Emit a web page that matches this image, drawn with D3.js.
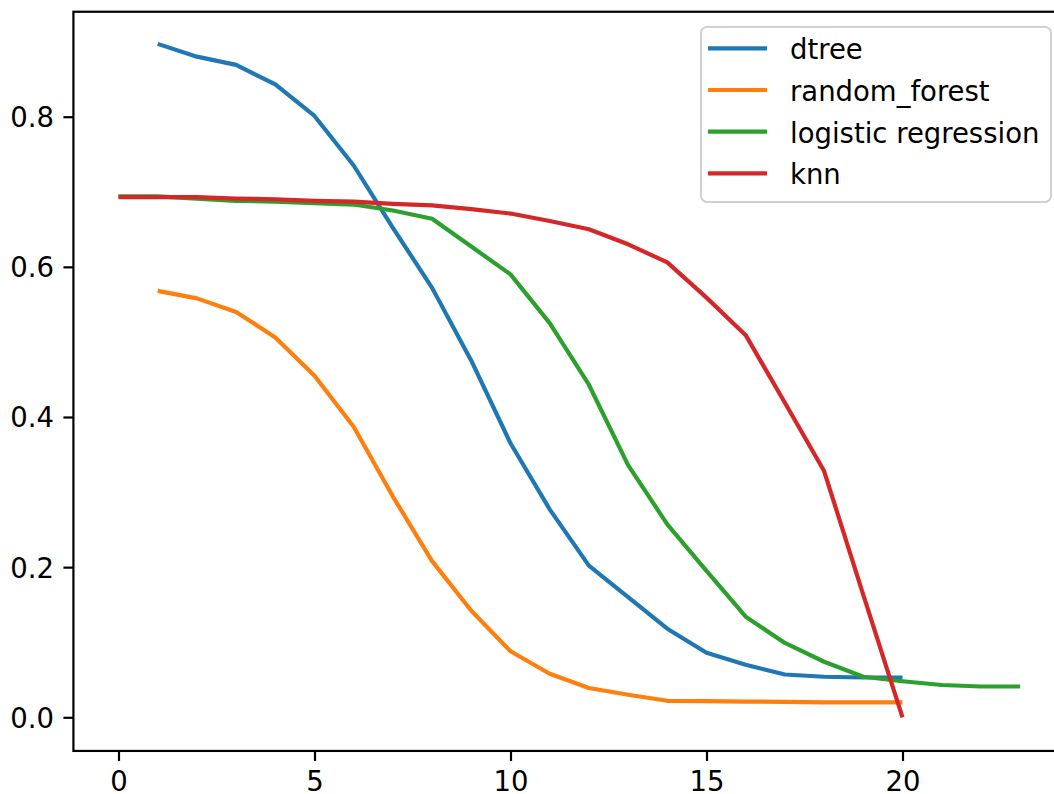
<!DOCTYPE html>
<html>
<head>
<meta charset="utf-8">
<script src="https://cdn.jsdelivr.net/npm/d3@7"></script>
<style>
  html, body { margin: 0; padding: 0; background: #fff; }
  svg { display: block; }
  text { font-family: "DejaVu Sans", sans-serif; }
</style>
</head>
<body>
<svg id="chart" width="1054" height="794"></svg>
<script>
const seriesNames = ["dtree", "random_forest", "logistic regression", "knn"];
const seriesColors = ["#1f77b4", "#ff7f0e", "#2ca02c", "#d62728"];

const dtreeX = [1,2,3,4,5,6,7,8,9,10,11,12,13,14,15,16,17,18,19,20];
const dtreeY = [0.897,0.880,0.869,0.843,0.801,0.735,0.652,0.572,0.475,0.365,0.277,0.202,0.160,0.118,0.086,0.070,0.057,0.054,0.053,0.053];

const rfX = [1,2,3,4,5,6,7,8,9,10,11,12,13,14,15,16,17,18,19,20];
const rfY = [0.568,0.558,0.540,0.506,0.455,0.387,0.294,0.208,0.142,0.088,0.058,0.039,0.030,0.022,0.0215,0.021,0.0205,0.020,0.020,0.020];

const lrX = [0,1,2,3,4,5,6,7,8,9,10,11,12,13,14,15,16,17,18,19,20,21,22,23];
const lrY = [0.694,0.694,0.691,0.688,0.687,0.685,0.683,0.675,0.664,0.627,0.590,0.525,0.443,0.336,0.257,0.195,0.134,0.099,0.074,0.054,0.048,0.043,0.041,0.041];

const knnX = [0,1,2,3,4,5,6,7,8,9,10,11,12,13,14,15,16,17,18,19,20];
const knnY = [0.693,0.693,0.693,0.691,0.690,0.688,0.687,0.684,0.682,0.677,0.671,0.661,0.650,0.630,0.606,0.559,0.509,0.419,0.328,0.163,0.0];

const xTicks = [0,5,10,15,20];
const yTicks = [0.0,0.2,0.4,0.6,0.8];

const seriesX = [dtreeX, rfX, lrX, knnX];
const seriesY = [dtreeY, rfY, lrY, knnY];

(function () {
  const FS = 27.5;
  const svg = d3.select("#chart");

  const x = d3.scaleLinear().domain([0, 20]).range([118.5, 902.5]);
  const y = d3.scaleLinear().domain([0, 0.8]).range([717.3, 116.7]);

  const pLeft = x(-1.15), pRight = x(24.15);
  const pTop = y(0.9398), pBottom = y(-0.0448);

  // lines
  const line = d3.line().x(d => x(d[0])).y(d => y(d[1]));
  seriesNames.forEach((name, i) => {
    const pts = seriesX[i].map((xv, j) => [xv, seriesY[i][j]]);
    svg.append("path")
      .datum(pts)
      .attr("d", line)
      .attr("fill", "none")
      .attr("stroke", seriesColors[i])
      .attr("stroke-width", 4.2)
      .attr("stroke-linejoin", "round")
      .attr("stroke-linecap", "butt");
  });

  // axes
  const xAxis = d3.axisBottom(x).tickValues(xTicks).tickSize(10).tickPadding(11).tickFormat(d3.format("d"));
  const gx = svg.append("g").attr("transform", `translate(0,${pBottom})`).call(xAxis);
  gx.select(".domain").remove();
  gx.selectAll("line").attr("stroke", "#000").attr("stroke-width", 2.2);
  gx.selectAll("text").attr("font-size", FS).attr("fill", "#000").attr("font-family", "DejaVu Sans");

  const yAxis = d3.axisLeft(y).tickValues(yTicks).tickSize(10).tickPadding(9.5).tickFormat(d3.format(".1f"));
  const gy = svg.append("g").attr("transform", `translate(${pLeft},0)`).call(yAxis);
  gy.select(".domain").remove();
  gy.selectAll("line").attr("stroke", "#000").attr("stroke-width", 2.2);
  gy.selectAll("text").attr("font-size", FS).attr("fill", "#000").attr("dy", "0.36em").attr("font-family", "DejaVu Sans");

  // spines
  svg.append("rect")
    .attr("x", pLeft).attr("y", pTop)
    .attr("width", pRight - pLeft).attr("height", pBottom - pTop)
    .attr("fill", "none").attr("stroke", "#000").attr("stroke-width", 2.2);

  // legend
  const lg = svg.append("g");
  lg.append("rect")
    .attr("x", 701).attr("y", 27).attr("width", 350).attr("height", 175)
    .attr("rx", 6).attr("ry", 6)
    .attr("fill", "#fff").attr("fill-opacity", 0.8)
    .attr("stroke", "#d0d0d0").attr("stroke-width", 2);
  seriesNames.forEach((name, i) => {
    const ly = 48.3 + i * 41.7;
    lg.append("line")
      .attr("x1", 708).attr("x2", 767).attr("y1", ly).attr("y2", ly)
      .attr("stroke", seriesColors[i]).attr("stroke-width", 4.2);
    lg.append("text")
      .attr("x", 790).attr("y", ly + 11)
      .attr("font-size", FS).attr("fill", "#000")
      .text(name);
  });
})();
</script>
</body>
</html>
